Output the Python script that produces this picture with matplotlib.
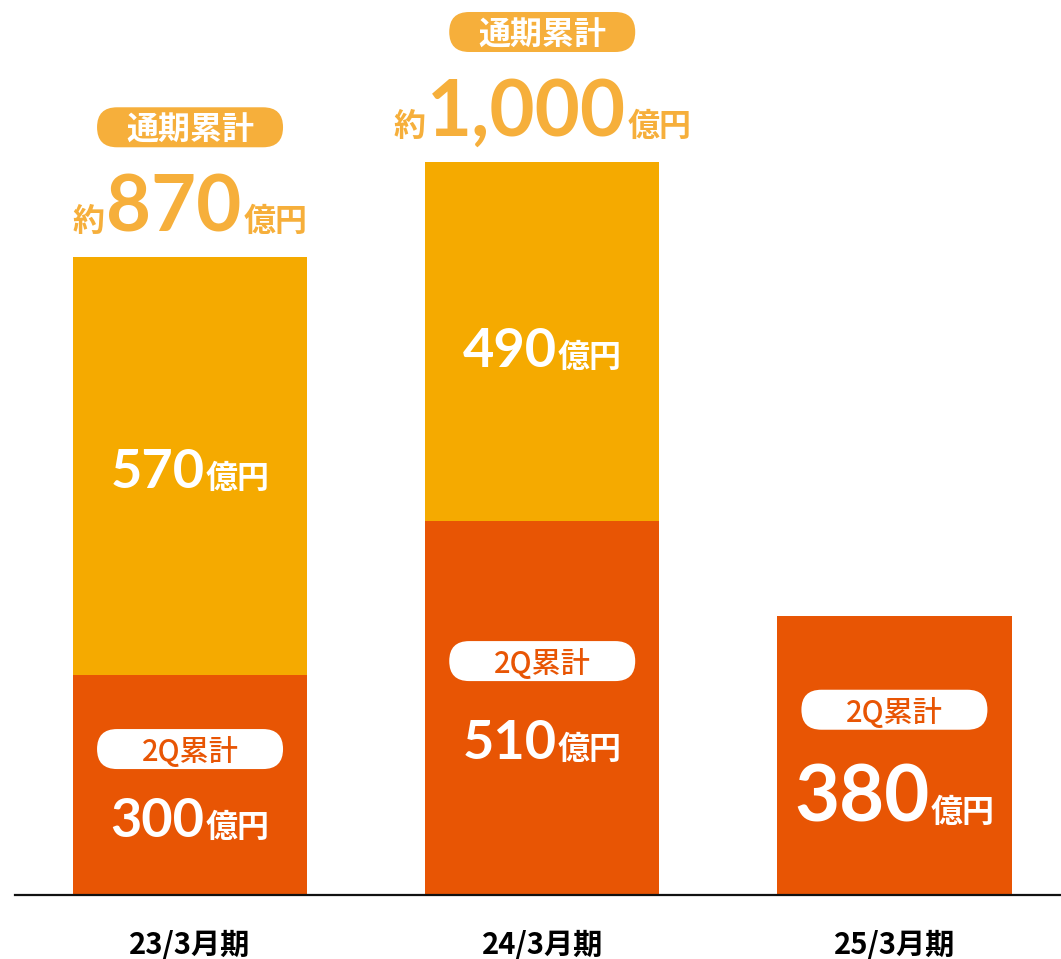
import matplotlib.pyplot as plt
import matplotlib.transforms as mtransforms
from matplotlib.patches import FancyBboxPatch
from matplotlib.offsetbox import TextArea, HPacker, AnnotationBbox

periods = ["23/3月期", "24/3月期", "25/3月期"]
first_half = [300, 510, 380]     # 2Q累計
second_half = [570, 490, 0]      # 下期
has_full_year = [True, True, False]

DARK = "#E85504"
LIGHT = "#F5AA00"
BADGE = "#F6AF3B"
CJK = "Noto Sans CJK JP"
NUM = ["Lato", CJK]

# label layout (pixels, downward positive)
q2_badge_off = [-36, -47, -46]
q2_label_off = [36, 35, 44]
upper_label_off = [6, 10, 0]
q2_big = [False, False, True]

fig = plt.figure(figsize=(10.61, 9.59), dpi=100)
ax = fig.add_axes([15 / 1061, 64 / 959, 1046 / 1061, 895 / 959])
x = list(range(len(periods)))
width = 0.665
ax.bar(x, first_half, width, color=DARK)
ax.bar(x, second_half, width, bottom=first_half, color=LIGHT)
ax.set_xlim(-0.497, 2.473)
ax.set_ylim(0, 1221)
for s in ["top", "left", "right"]:
    ax.spines[s].set_visible(False)
ax.spines["bottom"].set_linewidth(1.6)
ax.spines["bottom"].set_color("#111111")
ax.set_yticks([])
ax.set_xticks(x)
ax.set_xticklabels(periods, fontsize=21, fontweight="bold", family=[CJK])
ax.tick_params(axis="x", length=0, pad=25)


def px(v):
    return -v * 0.72  # image pixels (down) -> points (up)


def badge(xc, yc, off, text, face, tcolor, fsize, weight):
    w, h = 1.86, 0.40
    tr = fig.dpi_scale_trans + mtransforms.ScaledTranslation(xc, yc, ax.transData)
    p = FancyBboxPatch((-w / 2, -off / 100 - h / 2), w, h,
                       boxstyle=f"round,pad=0,rounding_size={h / 2}",
                       transform=tr, facecolor=face, edgecolor="none", zorder=3)
    ax.add_patch(p)
    ax.annotate(text, (xc, yc), xytext=(0, px(off)), textcoords="offset points",
                ha="center", va="center_baseline", fontsize=fsize, color=tcolor,
                fontweight=weight, family=[CJK], zorder=4)


def amount(xc, yc, off, parts, color):
    boxes = []
    for txt, size, fam in parts:
        boxes.append(TextArea(txt, textprops=dict(fontsize=size, color=color,
                                                   fontweight="bold", family=fam)))
    pack = HPacker(children=boxes, align="baseline", pad=0, sep=1)
    ab = AnnotationBbox(pack, (xc, yc), xybox=(0, px(off)), xycoords="data",
                        boxcoords="offset points", frameon=False,
                        box_alignment=(0.5, 0.5), pad=0, zorder=4)
    ax.add_artist(ab)


for i, xc in enumerate(x):
    f = first_half[i]
    s = second_half[i]
    mid = f / 2
    badge(xc, mid, q2_badge_off[i], "2Q累計", "white", DARK, 21, "medium")
    big = 56 if q2_big[i] else 39
    amount(xc, mid, q2_label_off[i], [(f"{f}", big, NUM), ("億円", 23, [CJK])], "white")
    if s:
        amount(xc, f + s / 2, upper_label_off[i],
               [(f"{s}", 39, NUM), ("億円", 23, [CJK])], "white")
    if has_full_year[i]:
        total = f + s
        badge(xc, total, -130, "通期累計", BADGE, "white", 23, "bold")
        amount(xc, total, -48, [("約", 23, [CJK]), (f"{total:,}", 56, NUM),
                                ("億円", 23, [CJK])], BADGE)

fig.savefig("out.png", dpi=100, facecolor="white")
